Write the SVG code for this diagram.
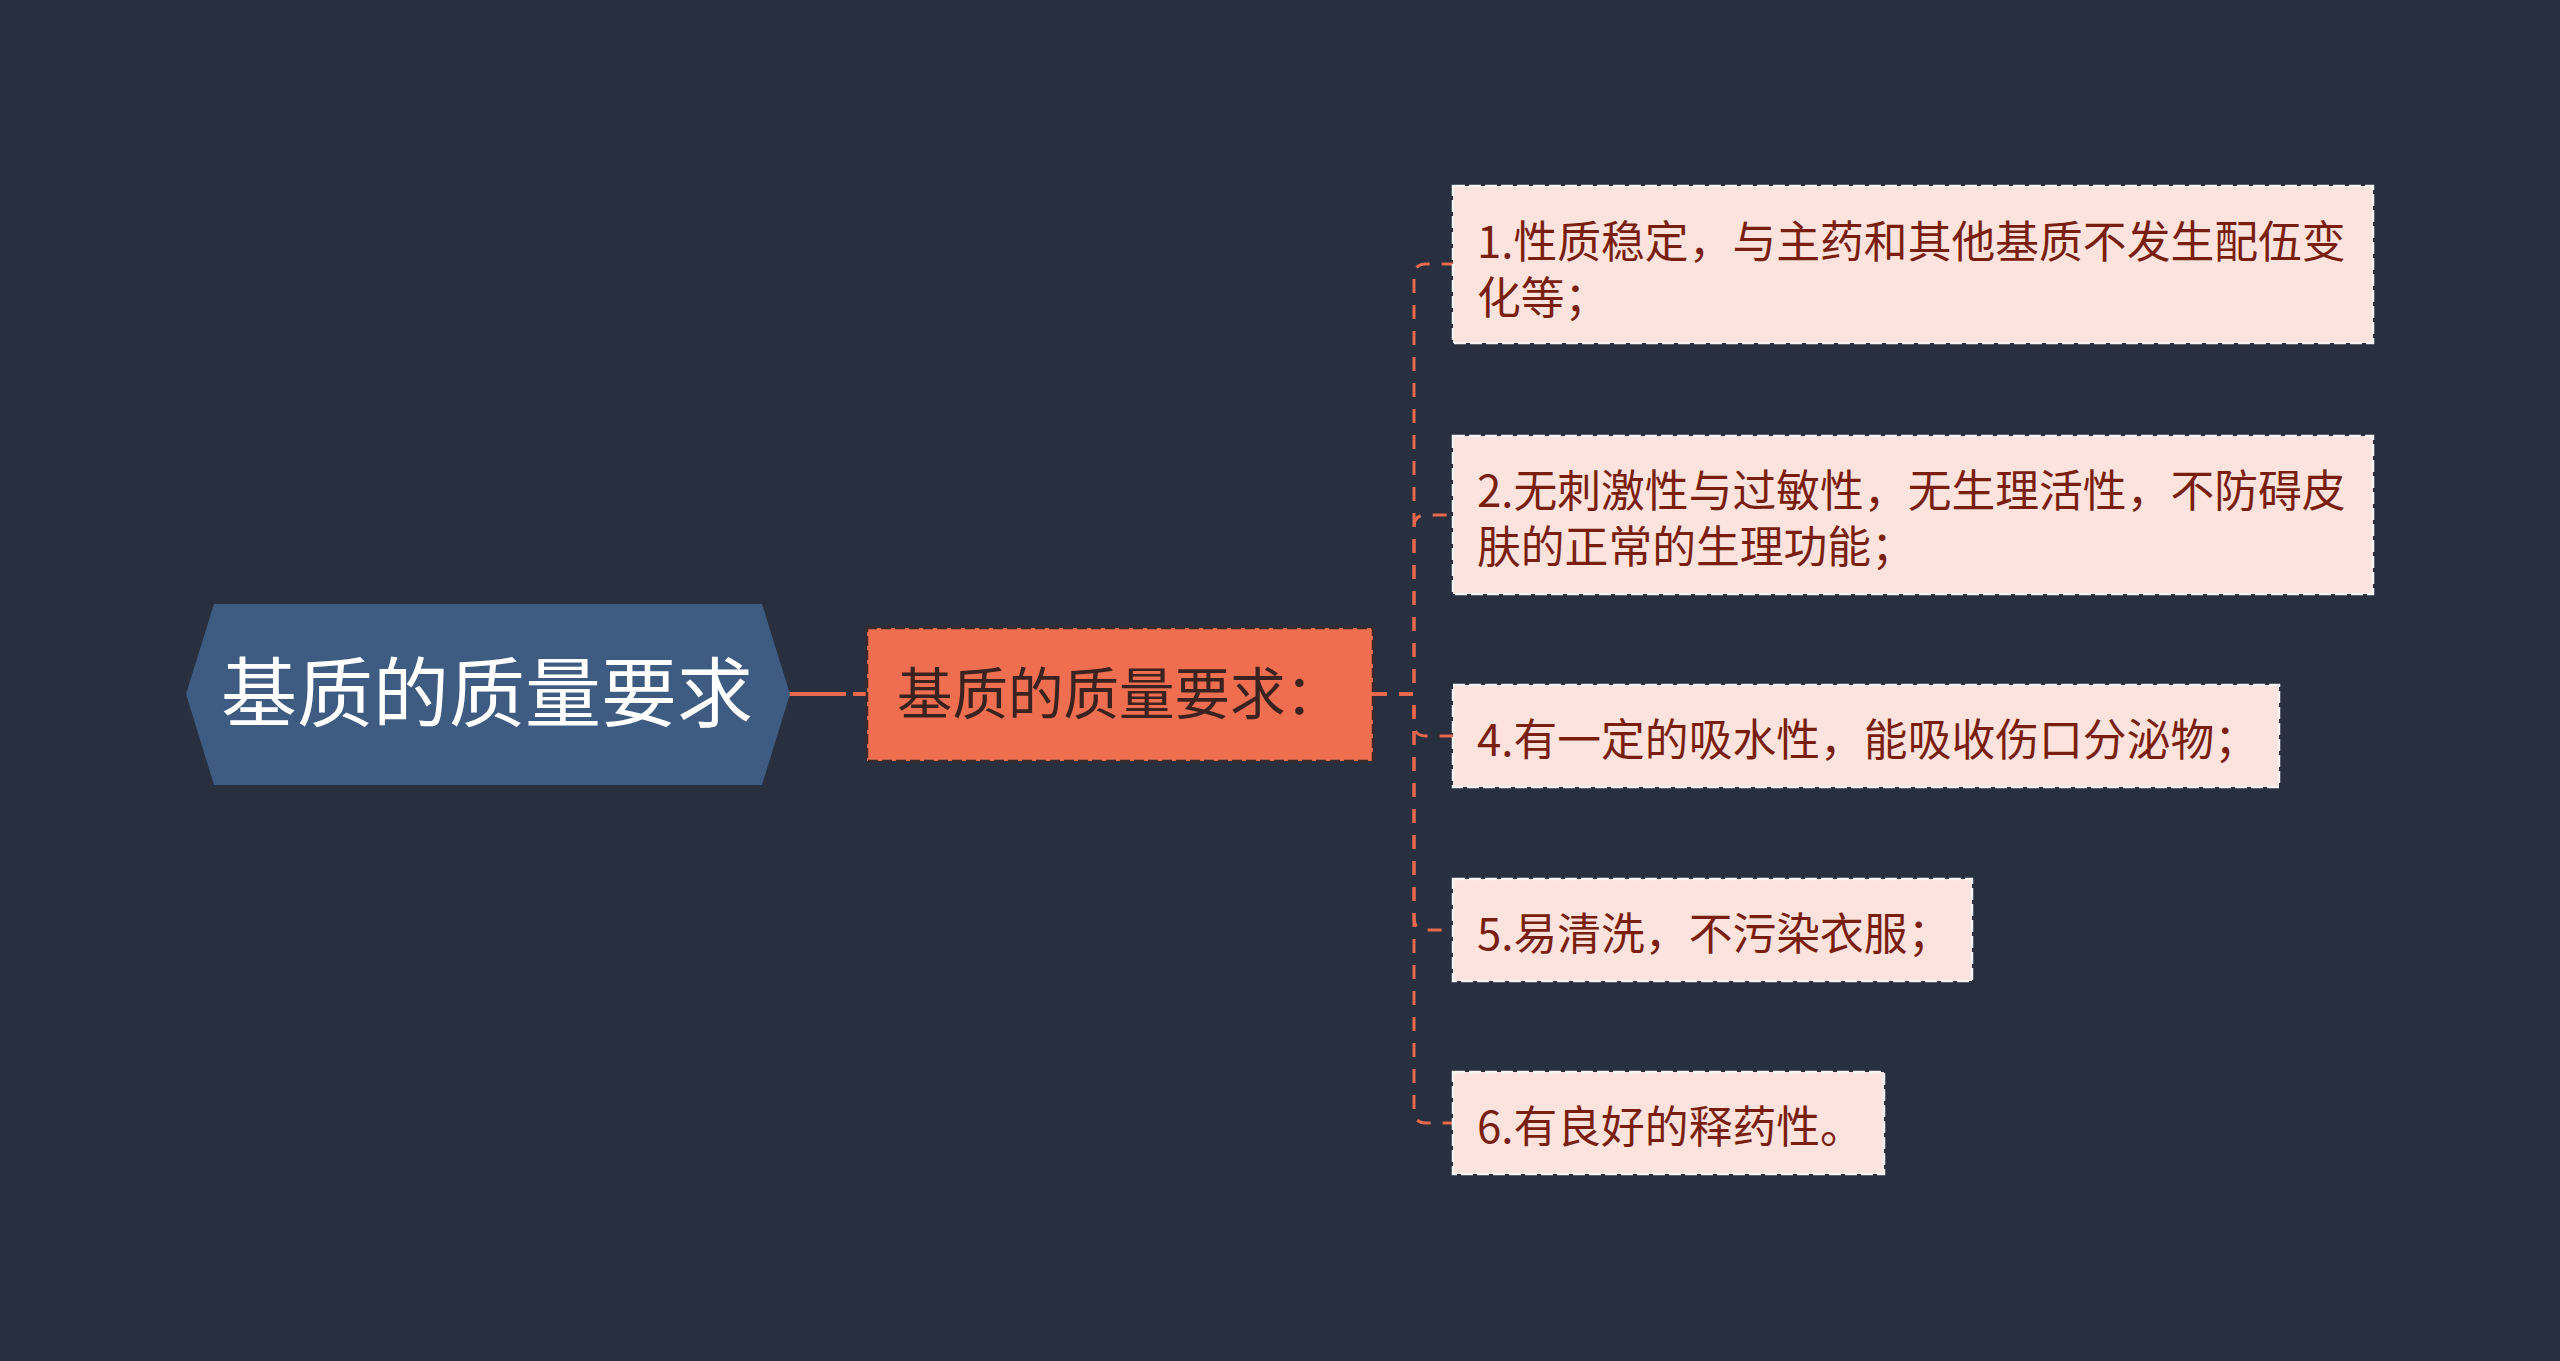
<svg xmlns="http://www.w3.org/2000/svg" width="2560" height="1361" viewBox="0 0 2560 1361">
<style>
.bg{fill:#282F3E}
.conn{fill:none;stroke:#E8694B;stroke-width:3;stroke-dasharray:14 12}
.leaf rect{fill:#FDE3DD;stroke:#F4F4F4;stroke-width:2.5;stroke-dasharray:12 4}
.leaf text{font-family:"Noto Sans CJK SC","Noto Sans",sans-serif;font-size:43.8px;fill:#7A1F10}
</style>
<rect class="bg" x="0" y="0" width="2560" height="1361"/>
<g id="connectors">
  <line x1="788" y1="694" x2="846" y2="694" stroke="#E8694B" stroke-width="4"/>
  <line x1="853" y1="694" x2="867" y2="694" stroke="#E8694B" stroke-width="4"/>
  <path class="conn" d="M1373,694 H1414 V276 Q1414,264 1426,264 H1453"/>
  <path class="conn" d="M1373,694 H1414 V527 Q1414,515 1426,515 H1453"/>
  <path class="conn" d="M1373,694 H1414 V724 Q1414,736 1426,736 H1453"/>
  <path class="conn" d="M1373,694 H1414 V918 Q1414,930 1426,930 H1453"/>
  <path class="conn" d="M1373,694 H1414 V1111 Q1414,1123 1426,1123 H1453"/>
</g>
<g id="root">
  <polygon points="186,694 214,604 762,604 790,694 762,785 214,785" fill="#3E5B82"/>
  <text x="487" y="721" text-anchor="middle" font-family="Noto Sans CJK SC, Noto Sans, sans-serif" font-size="76" fill="#FFFFFF">基质的质量要求</text>
</g>
<g id="main">
  <rect x="867" y="628" width="506" height="133" fill="#EE6E4F" stroke="#3A2A28" stroke-width="2.5" stroke-dasharray="10 4"/>
  <text x="897" y="714" font-family="Noto Sans CJK SC, Noto Sans, sans-serif" font-size="55.5" fill="#3A2220">基质的质量要求：</text>
</g>
<g id="item1" class="leaf">
  <rect x="1453" y="186" width="920" height="157"/>
  <text x="1477" y="258">1.性质稳定，与主药和其他基质不发生配伍变</text>
  <text x="1477" y="314">化等；</text>
</g>
<g id="item2" class="leaf">
  <rect x="1453" y="436" width="920" height="158"/>
  <text x="1477" y="507">2.无刺激性与过敏性，无生理活性，不防碍皮</text>
  <text x="1477" y="563">肤的正常的生理功能；</text>
</g>
<g id="item4" class="leaf">
  <rect x="1453" y="685" width="826" height="102"/>
  <text x="1477" y="756">4.有一定的吸水性，能吸收伤口分泌物；</text>
</g>
<g id="item5" class="leaf">
  <rect x="1453" y="879" width="519" height="102"/>
  <text x="1477" y="950">5.易清洗，不污染衣服；</text>
</g>
<g id="item6" class="leaf">
  <rect x="1453" y="1072" width="431" height="102"/>
  <text x="1477" y="1143">6.有良好的释药性。</text>
</g>
</svg>
